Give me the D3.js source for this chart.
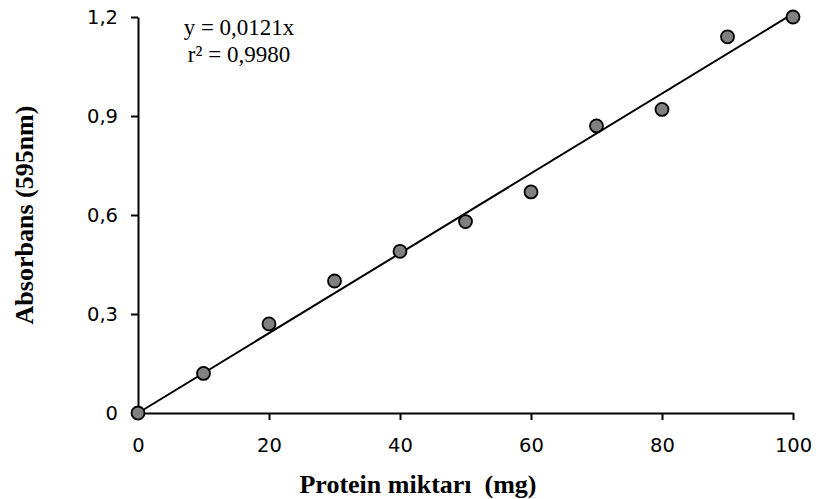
<!DOCTYPE html>
<html>
<head>
<meta charset="utf-8">
<script src="https://cdn.jsdelivr.net/npm/d3@7"></script>
<style>
  body { margin: 0; background: #fff; }
  .tick text { font-family: "DejaVu Sans", sans-serif; font-size: 19.5px; fill: #000; }
  .title { font-family: "Liberation Serif", serif; font-weight: bold; font-size: 26px; }
  .eq { font-family: "Liberation Serif", serif; font-size: 23px; }
</style>
</head>
<body>
<svg id="chart" width="816" height="499"></svg>
<script>
var protein = [0, 10, 20, 30, 40, 50, 60, 70, 80, 90, 100];
var absorbans = [0, 0.12, 0.27, 0.40, 0.49, 0.58, 0.67, 0.87, 0.92, 1.14, 1.20];
var slope = 0.0121;
var xTicks = [0, 20, 40, 60, 80, 100];
var yTicks = [0, 0.3, 0.6, 0.9, 1.2];
var yLabels = ["0", "0,3", "0,6", "0,9", "1,2"];

var svg = d3.select("#chart");

var x = d3.scaleLinear().domain([0, 100]).range([138, 793]);
var y = d3.scaleLinear().domain([0, 1.2]).range([413, 17]);

// axes
svg.append("g")
  .attr("transform", "translate(0,413)")
  .call(d3.axisBottom(x).tickValues(xTicks).tickSize(7).tickPadding(18).tickSizeOuter(0))
  .call(function(g) {
    g.select(".domain").attr("stroke-width", 2);
    g.selectAll(".tick line").attr("stroke-width", 2);
  });

svg.append("g")
  .attr("transform", "translate(138,0)")
  .call(d3.axisLeft(y).tickValues(yTicks).tickSize(7).tickPadding(13).tickSizeOuter(0)
    .tickFormat(function(d, i) { return yLabels[i]; }))
  .call(function(g) {
    g.select(".domain").attr("stroke-width", 2);
    g.selectAll(".tick line").attr("stroke-width", 2);
  });

// trend line
svg.append("line")
  .attr("x1", x(0)).attr("y1", y(0))
  .attr("x2", x(100)).attr("y2", y(slope * 100))
  .attr("stroke", "#000")
  .attr("stroke-width", 2);

// points
svg.selectAll("circle")
  .data(protein)
  .enter()
  .append("circle")
  .attr("cx", function(d) { return x(d); })
  .attr("cy", function(d, i) { return y(absorbans[i]); })
  .attr("r", 6.5)
  .attr("fill", "#808080")
  .attr("stroke", "#000")
  .attr("stroke-width", 1.8);

// equation
svg.append("text").attr("class", "eq")
  .attr("x", 239).attr("y", 35).attr("text-anchor", "middle")
  .text("y = 0,0121x");
svg.append("text").attr("class", "eq")
  .attr("x", 239).attr("y", 62).attr("text-anchor", "middle")
  .text("r² = 0,9980");

// axis titles
svg.append("text").attr("class", "title")
  .attr("x", 418).attr("y", 493).attr("text-anchor", "middle")
  .attr("xml:space", "preserve")
  .text("Protein miktarı  (mg)");

svg.append("text").attr("class", "title")
  .attr("transform", "translate(33,215) rotate(-90)")
  .attr("text-anchor", "middle")
  .text("Absorbans (595nm)");
</script>
</body>
</html>
